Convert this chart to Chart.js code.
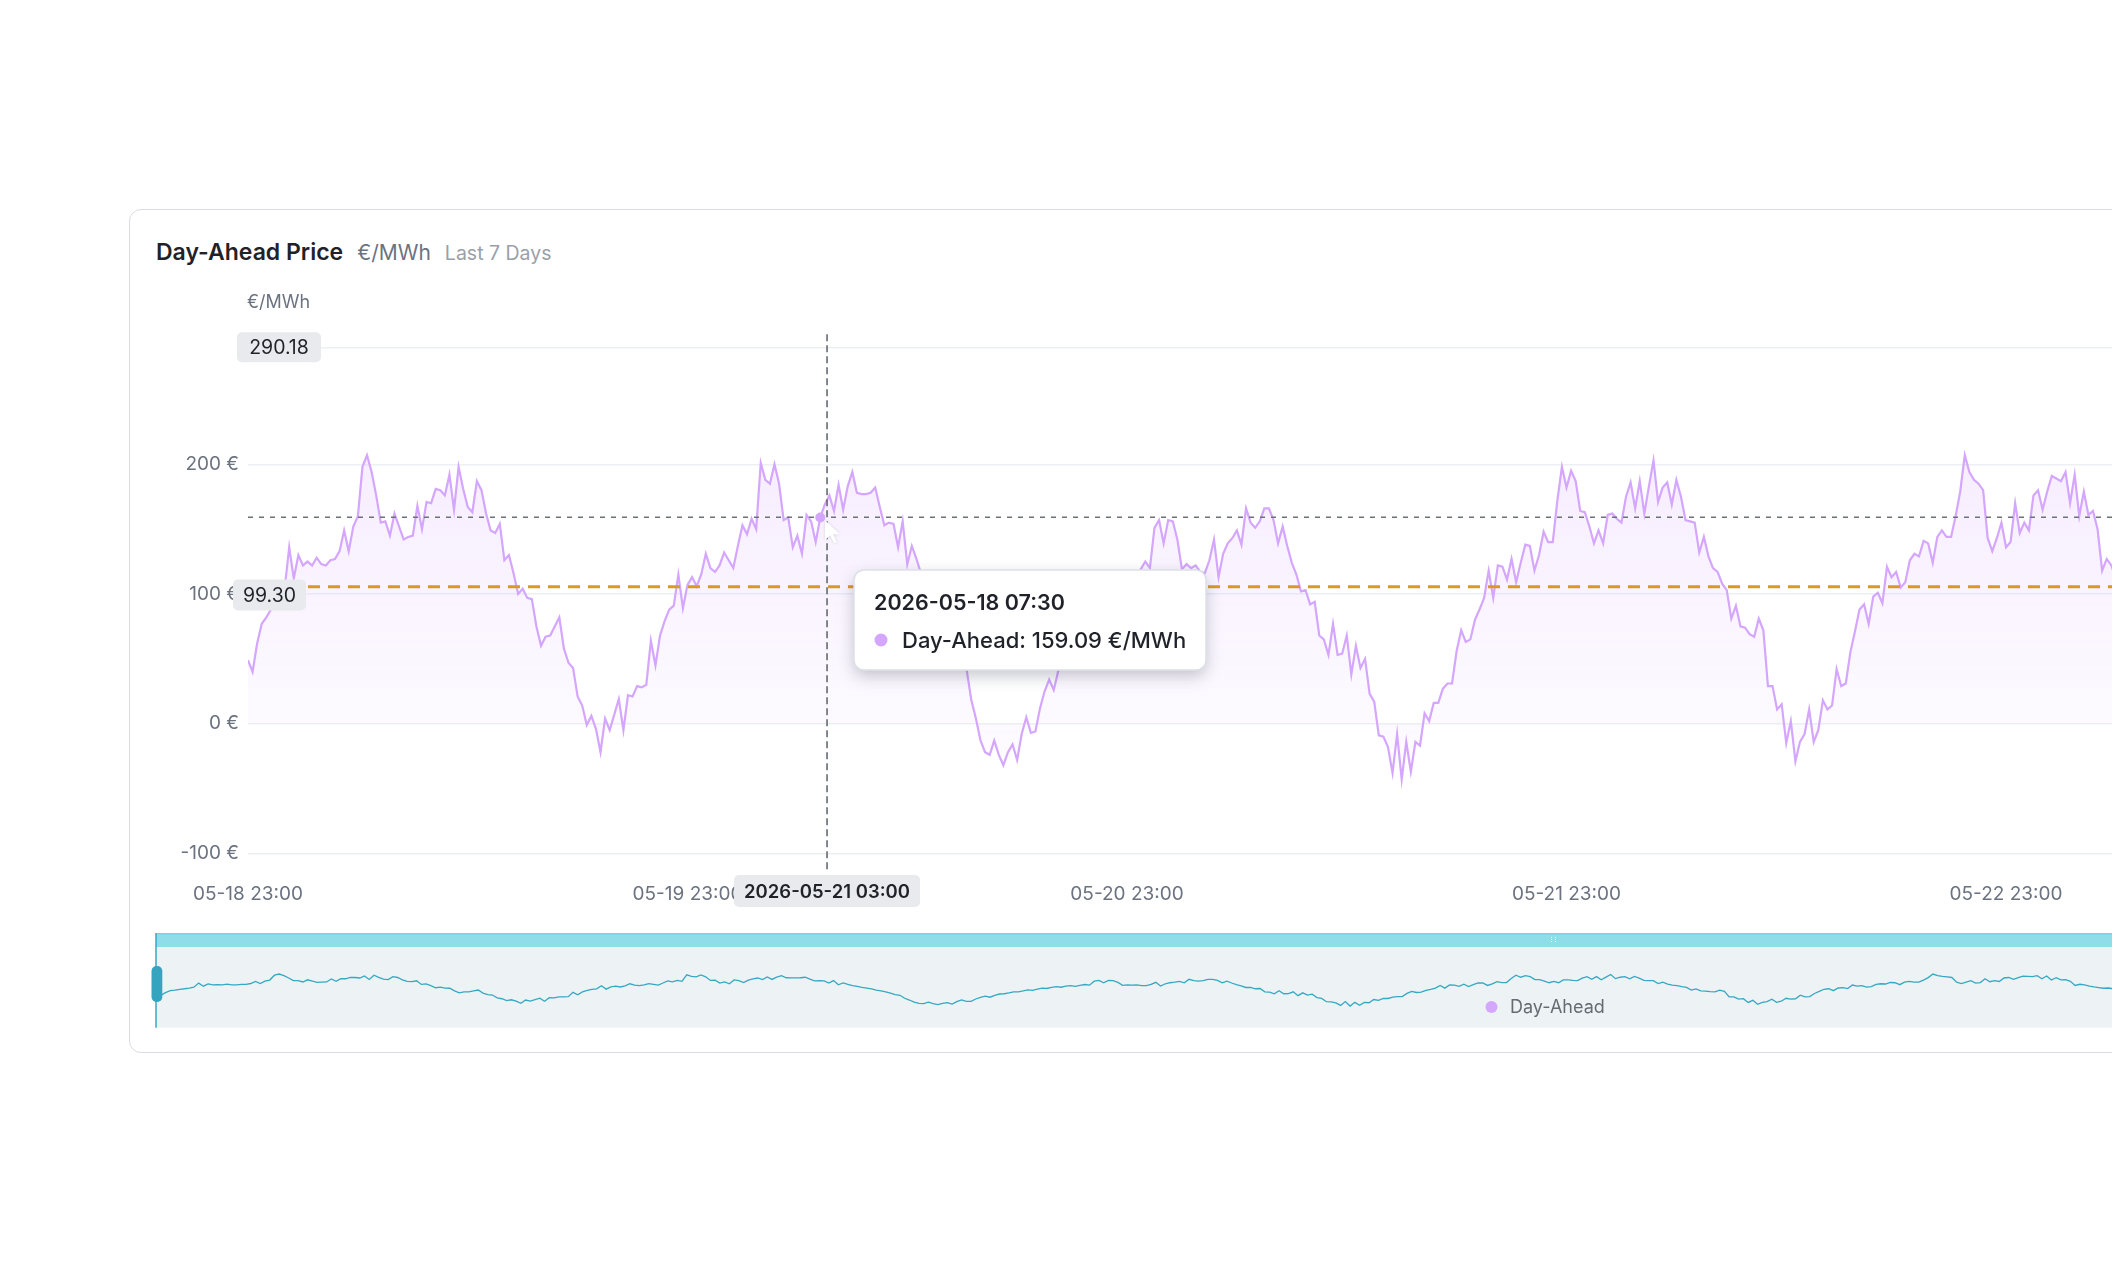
<!DOCTYPE html>
<html>
<head>
<meta charset="utf-8">
<title>Day-Ahead Price</title>
<script src="https://cdn.jsdelivr.net/npm/chart.js@4.4.1/dist/chart.umd.min.js"></script>
<style>
    html, body {
        margin: 0;
        padding: 0;
        width: 2112px;
        height: 1264px;
        overflow: hidden;
        background: #fff;
        font-family: Inter, "Noto Sans", sans-serif;
    }
    .card {
        position: absolute;
        left: 129px;
        top: 209px;
        width: 2300px;
        height: 844px;
        box-sizing: border-box;
        border: 1.5px solid #d9dde3;
        border-radius: 12px;
        background: #fff;
    }
    .head {
        position: absolute;
        left: 156px;
        top: 236px;
        white-space: nowrap;
        line-height: 32px;
    }
    .head .t { font-size: 23px; font-weight: 600; color: #1f2329; }
    .head .u { font-size: 21px; color: #6b7280; margin-left: 14px; }
    .head .p { font-size: 19.5px; color: #9aa0a8; margin-left: 14px; }
    #main { position: absolute; left: 0; top: 0; }
    #mini { position: absolute; left: 146px; top: 930px; }
</style>
</head>
<body>
<div class="card"></div>
<div class="head"><span class="t">Day-Ahead Price</span><span class="u">€/MWh</span><span class="p">Last 7 Days</span></div>
<canvas id="main" width="2240" height="1264"></canvas>
<canvas id="mini" width="1980" height="100"></canvas>

<script>
// 15-minute day-ahead prices (€/MWh) starting 05-18 23:00
var prices = [
    49, 40, 62, 77, 82, 88, 92, 97, 104, 136, 112, 130, 122, 125, 122, 128, 123, 122, 126, 127,
    133, 149, 133, 152, 160, 198, 207, 194, 176, 155, 156, 145, 162, 152, 142, 144, 145, 168, 150, 171,
    170, 181, 180, 176, 192, 165, 198, 181, 167, 163, 187, 180, 162, 149, 147, 154, 126, 130, 116, 100,
    104, 97, 96, 75, 60, 67, 68, 75, 82, 58, 47, 43, 21, 14, -1, 6, -4, -22, 4, -5,
    7, 19, -5, 22, 21, 29, 28, 30, 64, 45, 68, 79, 88, 91, 115, 89, 107, 113, 106, 115,
    131, 120, 117, 122, 132, 126, 120, 137, 153, 146, 158, 150, 201, 188, 185, 200, 185, 157, 159, 136,
    145, 131, 161, 156, 140, 159, 169, 176, 164, 184, 165, 183, 194, 178, 177, 177, 178, 182, 167, 153,
    155, 154, 136, 156, 123, 137, 127, 116, 110, 103, 97, 91, 82, 75, 67, 58, 47, 41, 18, 4,
    -13, -22, -24, -13, -24, -32, -22, -16, -28, -8, 5, -7, -6, 12, 25, 34, 26, 41, 51, 53,
    60, 68, 68, 75, 84, 80, 90, 97, 94, 103, 108, 104, 112, 116, 110, 119, 125, 120, 151, 157,
    139, 157, 156, 142, 119, 123, 120, 122, 117, 116, 126, 142, 113, 131, 139, 143, 149, 138, 166, 155,
    151, 156, 166, 166, 157, 139, 152, 137, 124, 115, 102, 103, 92, 94, 68, 65, 53, 77, 53, 54,
    68, 38, 60, 43, 50, 23, 17, -9, -10, -18, -38, -8, -43, -14, -37, -14, -17, 8, 2, 16,
    16, 27, 31, 31, 56, 72, 63, 65, 80, 88, 97, 118, 97, 122, 121, 111, 127, 109, 124, 138,
    137, 118, 130, 148, 140, 140, 172, 198, 182, 195, 187, 164, 163, 152, 139, 149, 139, 161, 162, 158,
    155, 175, 186, 166, 187, 162, 183, 203, 171, 182, 186, 169, 188, 175, 157, 156, 155, 132, 144, 129,
    120, 117, 108, 103, 81, 91, 75, 74, 69, 67, 81, 72, 29, 29, 11, 15, -15, 2, -29, -14,
    -8, 11, -14, -5, 18, 11, 14, 42, 29, 31, 55, 71, 88, 92, 77, 98, 101, 93, 121, 113,
    117, 105, 109, 126, 131, 129, 141, 139, 124, 144, 149, 144, 144, 160, 179, 207, 194, 188, 185, 180,
    143, 133, 143, 155, 136, 140, 170, 147, 155, 149, 176, 180, 165, 179, 191, 189, 187, 194, 170, 192,
    160, 179, 161, 164, 150, 118, 127, 122, 112, 106, 101, 96, 98, 92
];
var stepHours = 0.25;
var tickHours = [0, 24, 48, 72, 96];
var tickLabels = ['05-18 23:00', '05-19 23:00', '05-20 23:00', '05-21 23:00', '05-22 23:00'];
var yTicks = [-100, 0, 100, 200, 290.18];
var yTickLabels = ['-100 €', '0 €', '100 €', '200 €', ''];

var seriesName = 'Day-Ahead';
var unit = '€/MWh';
var maxLabel = '290.18';
var crossValue = 159.09;
var markValue = 105.6;
var yPointerValue = 99.30;
var yPointerLabel = '99.30';
var xPointerHour = 31.62;
var xPointerLabel = '2026-05-21 03:00';
var activeIndex = 125;
var tipTitle = '2026-05-18 07:30';
var tipText = 'Day-Ahead: 159.09 €/MWh';

var LINE = '#d4a6fd';
var TEAL = '#36a8c2';
var FONT = 'Inter, "Noto Sans", sans-serif';

Chart.defaults.font.family = FONT;

var points = prices.map(function (v, i) { return { x: i * stepHours, y: v }; });
var xMax = (prices.length - 1) * stepHours;

function badge(ctx, cx, cy, w, h, text, font) {
    ctx.save();
    ctx.fillStyle = '#e8eaee';
    ctx.beginPath();
    ctx.roundRect(cx - w / 2, cy - h / 2, w, h, 5);
    ctx.fill();
    ctx.fillStyle = '#1f2329';
    ctx.font = font;
    ctx.textAlign = 'center';
    ctx.textBaseline = 'middle';
    ctx.fillText(text, cx, cy + 1);
    ctx.restore();
}

function hLine(ctx, area, y, color, width, dash) {
    ctx.save();
    ctx.strokeStyle = color;
    ctx.lineWidth = width;
    ctx.setLineDash(dash);
    ctx.beginPath();
    ctx.moveTo(area.left, y);
    ctx.lineTo(area.right, y);
    ctx.stroke();
    ctx.restore();
}

var overlay = {
    id: 'overlay',
    afterDraw: function (chart) {
        var ctx = chart.ctx, area = chart.chartArea;
        var xs = chart.scales.x, ys = chart.scales.y;

        // reference lines
        hLine(ctx, area, ys.getPixelForValue(markValue), '#d89a24', 3, [12, 8]);
        hLine(ctx, area, ys.getPixelForValue(crossValue), '#6d7178', 1.5, [5, 6]);

        // vertical pointer
        var px = xs.getPixelForValue(xPointerHour);
        ctx.save();
        ctx.strokeStyle = '#5b616b';
        ctx.lineWidth = 1.5;
        ctx.setLineDash([7, 4]);
        ctx.beginPath();
        ctx.moveTo(px, area.top - 13);
        ctx.lineTo(px, area.bottom + 16);
        ctx.stroke();
        ctx.restore();

        // active point
        var p = points[activeIndex];
        ctx.save();
        ctx.fillStyle = LINE;
        ctx.beginPath();
        ctx.arc(xs.getPixelForValue(p.x), ys.getPixelForValue(p.y), 5, 0, Math.PI * 2);
        ctx.fill();
        ctx.restore();

        // mouse cursor
        ctx.save();
        ctx.translate(px - 2, ys.getPixelForValue(crossValue) + 3);
        ctx.shadowColor = 'rgba(0,0,0,0.15)';
        ctx.shadowBlur = 3;
        ctx.fillStyle = '#ffffff';
        ctx.beginPath();
        ctx.moveTo(0, 0);
        ctx.lineTo(0, 20);
        ctx.lineTo(5, 15);
        ctx.lineTo(9, 23);
        ctx.lineTo(12, 22);
        ctx.lineTo(8, 14);
        ctx.lineTo(15, 14);
        ctx.closePath();
        ctx.fill();
        ctx.restore();

        // axis name
        ctx.save();
        ctx.fillStyle = '#6b7280';
        ctx.font = '18px ' + FONT;
        ctx.textBaseline = 'middle';
        ctx.fillText(unit, area.left - 1, 303);
        ctx.restore();

        // axis badges
        badge(ctx, 279, ys.getPixelForValue(yTicks[yTicks.length - 1]), 84, 30, maxLabel, '19.5px ' + FONT);
        badge(ctx, 269.5, ys.getPixelForValue(yPointerValue), 73, 31, yPointerLabel, '19.5px ' + FONT);
        badge(ctx, px, 891, 186, 32, xPointerLabel, '600 18.5px ' + FONT);

        // tooltip
        var tx = 854, ty = 570, tw = 352, th = 100;
        ctx.save();
        ctx.shadowColor = 'rgba(30,40,60,0.26)';
        ctx.shadowBlur = 16;
        ctx.shadowOffsetY = 6;
        ctx.fillStyle = '#ffffff';
        ctx.beginPath();
        ctx.roundRect(tx, ty, tw, th, 10);
        ctx.fill();
        ctx.restore();
        ctx.save();
        ctx.strokeStyle = '#dde1e6';
        ctx.lineWidth = 1.5;
        ctx.beginPath();
        ctx.roundRect(tx, ty, tw, th, 10);
        ctx.stroke();
        ctx.fillStyle = '#1f2329';
        ctx.textBaseline = 'middle';
        ctx.font = '600 21.5px ' + FONT;
        ctx.fillText(tipTitle, tx + 20, ty + 34);
        ctx.fillStyle = LINE;
        ctx.beginPath();
        ctx.arc(tx + 27, ty + 70, 6.5, 0, Math.PI * 2);
        ctx.fill();
        ctx.fillStyle = '#1f2329';
        ctx.font = '500 22px ' + FONT;
        ctx.fillText(tipText, tx + 48, ty + 71);
        ctx.restore();
    }
};

new Chart(document.getElementById('main'), {
    type: 'line',
    data: {
        datasets: [{
            label: seriesName,
            data: points,
            borderColor: LINE,
            borderWidth: 2.2,
            pointRadius: 0,
            tension: 0,
            fill: 'origin',
            backgroundColor: function (c) {
                var chart = c.chart;
                if (!chart.chartArea) return 'rgba(212,166,253,0.1)';
                var ys = chart.scales.y;
                var g = chart.ctx.createLinearGradient(0, ys.getPixelForValue(210), 0, ys.getPixelForValue(-40));
                g.addColorStop(0, 'rgba(212,166,253,0.2)');
                g.addColorStop(1, 'rgba(212,166,253,0.03)');
                return g;
            }
        }]
    },
    options: {
        responsive: false,
        animation: false,
        devicePixelRatio: 1,
        events: [],
        layout: { padding: { left: 148, top: 347.3, right: 101.23, bottom: 310.6 } },
        plugins: { legend: { display: false }, tooltip: { enabled: false } },
        scales: {
            x: {
                type: 'linear',
                min: 0,
                max: xMax,
                grid: { display: false, drawTicks: false },
                border: { display: false },
                afterBuildTicks: function (s) { s.ticks = tickHours.map(function (v) { return { value: v }; }); },
                afterFit: function (s) { s.height = 100; },
                ticks: {
                    padding: 29,
                    autoSkip: false,
                    maxRotation: 0,
                    color: '#6b7280',
                    font: { size: 19 },
                    callback: function (v, i) { return tickLabels[i]; }
                }
            },
            y: {
                min: -100,
                max: 290.18,
                afterBuildTicks: function (s) { s.ticks = yTicks.map(function (v) { return { value: v }; }); },
                afterFit: function (s) { s.width = 100; },
                grid: { color: '#eceff4', lineWidth: 1.5, drawTicks: false },
                border: { display: false },
                ticks: {
                    padding: 9,
                    color: '#6b7280',
                    font: { size: 19 },
                    callback: function (v, i) { return yTickLabels[i]; }
                }
            }
        }
    },
    plugins: [overlay]
});

// overview slider underneath
var OX = 146, OY = 930;
var sliderDeco = {
    id: 'sliderDeco',
    beforeDraw: function (chart) {
        var ctx = chart.ctx, a = chart.chartArea;
        ctx.save();
        ctx.fillStyle = '#edf3f5';
        ctx.fillRect(a.left, a.top, a.right - a.left, a.bottom - a.top);
        ctx.fillStyle = '#8fdde9';
        ctx.fillRect(a.left, 933 - OY, a.right - a.left, a.top - (933 - OY));
        ctx.fillStyle = '#7fd2e0';
        ctx.fillRect(a.left, 933 - OY, a.right - a.left, 1.5);
        ctx.restore();
    },
    afterDraw: function (chart) {
        var ctx = chart.ctx, a = chart.chartArea;
        ctx.save();
        ctx.strokeStyle = TEAL;
        ctx.lineWidth = 1.5;
        ctx.beginPath();
        ctx.moveTo(a.left, 933 - OY);
        ctx.lineTo(a.left, a.bottom);
        ctx.stroke();
        ctx.fillStyle = '#35a5bf';
        ctx.beginPath();
        ctx.roundRect(151.5 - OX, 966 - OY, 10.8, 36, 5);
        ctx.fill();
        // grip marks in the band
        ctx.strokeStyle = 'rgba(255,255,255,0.9)';
        ctx.lineWidth = 1;
        ctx.setLineDash([1, 1]);
        ctx.beginPath();
        ctx.moveTo(1551.5 - OX, 937 - OY); ctx.lineTo(1551.5 - OX, 943 - OY);
        ctx.moveTo(1555.5 - OX, 937 - OY); ctx.lineTo(1555.5 - OX, 943 - OY);
        ctx.stroke();
        ctx.setLineDash([]);
        // legend
        ctx.fillStyle = LINE;
        ctx.beginPath();
        ctx.arc(1491.5 - OX, 1007 - OY, 6, 0, Math.PI * 2);
        ctx.fill();
        ctx.fillStyle = '#666b73';
        ctx.font = '18px ' + FONT;
        ctx.textBaseline = 'middle';
        ctx.fillText(seriesName, 1510 - OX, 1008 - OY);
        ctx.restore();
    }
};

new Chart(document.getElementById('mini'), {
    type: 'line',
    data: {
        datasets: [{
            data: points,
            borderColor: TEAL,
            borderWidth: 1.3,
            pointRadius: 0,
            tension: 0,
            fill: false
        }]
    },
    options: {
        responsive: false,
        animation: false,
        devicePixelRatio: 1,
        events: [],
        layout: { padding: { left: 10, top: 17, right: 13, bottom: 2.3 } },
        plugins: { legend: { display: false }, tooltip: { enabled: false } },
        scales: {
            x: { type: 'linear', display: false, min: 0, max: xMax },
            y: { display: false, min: -212, max: 418 }
        }
    },
    plugins: [sliderDeco]
});
</script>
</body>
</html>
